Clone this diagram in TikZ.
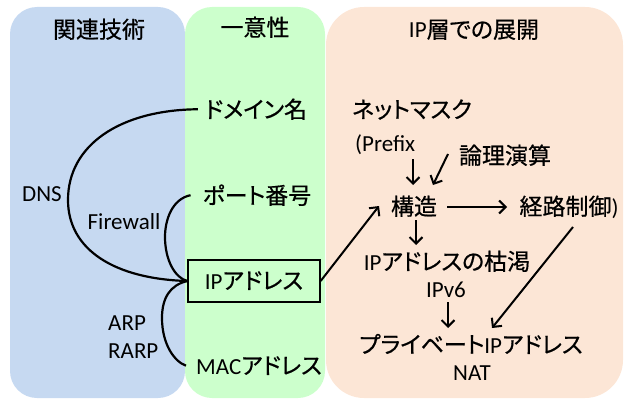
\documentclass[tikz,border=0pt]{standalone}
\usepackage{fontspec}
\setmainfont{Carlito}
\newfontfamily\jp[RawFeature=+palt, FakeBold=0.6]{Noto Sans CJK JP}
\newcommand\jt[1]{{\jp#1}}
\usetikzlibrary{arrows.meta}
\definecolor{panelblue}{RGB}{198,217,241}
\definecolor{panelgreen}{RGB}{204,255,204}
\definecolor{panelpeach}{RGB}{252,230,214}
\tikzset{
  panel/.style={draw=none, rounded corners=27pt},
  lbl/.style={anchor=base, inner sep=0pt, font=\fontsize{23}{28}\selectfont},
  link/.style={line width=2.2pt, black},
  arr/.style={line width=2pt, black, -{Straight Barb[length=6.5pt,width=13pt]}},
}
\begin{document}
\begin{tikzpicture}[x=1pt,y=-1pt]
\useasboundingbox (0,0) rectangle (629,401);
% column backgrounds
\fill[panelblue, panel] (10,7) rectangle (185,398);
\fill[panelgreen, panel] (185,7) rectangle (325,398);
\fill[panelpeach, panel, rounded corners=38pt] (326,7) rectangle (623,398);
% headings
\node[lbl] (h1) at (99,38) {\jt{関連技術}};
\node[lbl] (h2) at (255,36) {\jt{一意性}};
\node[lbl] (h3) at (474,38) {IP\jt{層での展開}};
% identifiers
\node[lbl] (dom) at (256,118) {\jt{ドメイン名}};
\node[lbl] (port) at (257,204) {\jt{ポート番号}};
\node[draw, line width=1.3pt, minimum width=132pt, minimum height=42pt, inner sep=0pt] (ipbox) at (254,281) {};
\node[lbl] (ip) at (254,289) {IP\jt{アドレス}};
\node[lbl] (mac) at (259,374) {MAC\jt{アドレス}};
% related technologies
\node[lbl] (dns) at (42,201) {DNS};
\node[lbl] (fw) at (124,229) {Firewall};
\node[lbl, anchor=base west] (arp) at (108,330) {ARP};
\node[lbl, anchor=base west] (rarp) at (108,358) {RARP};
% IP layer
\node[lbl] (mask) at (412,118) {\jt{ネットマスク}};
\node[lbl, anchor=base west] (prefix) at (355,151) {(Prefix};
\node[lbl] (ronri) at (505,164) {\jt{論理演算}};
\node[lbl] (kozo) at (414,215) {\jt{構造}};
\node[lbl] (keiro) at (569,215) {\jt{経路制御})};
\node[lbl] (kokatsu) at (447,270) {IP\jt{アドレスの枯渇}};
\node[lbl] (v6) at (446,297) {IPv6};
\node[lbl] (priv) at (471,353) {\jt{プライベート}IP\jt{アドレス}};
\node[lbl] (nat) at (472,380) {NAT};
% relations between identifiers
\draw[link] ([xshift=-7pt]dom.west) .. controls (120,110) and (68,145) .. (68,200)
  .. controls (68,250) and (115,279) .. (ipbox.west);
\draw[link] ([xshift=-12pt]port.west) .. controls (172,199) and (165,220) .. (165,237)
  .. controls (165,260) and (175,278) .. (ipbox.west);
\draw[link] (ipbox.west) .. controls (170,285) and (162,298) .. (162,318)
  .. controls (162,345) and (175,362) .. ([xshift=-10pt]mac.west);
% arrows
\coordinate (p1) at (413,159);
\coordinate (p2) at (413,185);
\coordinate (r1) at (448,154);
\coordinate (r2) at (433,185);
\coordinate (k1) at (447,207);
\coordinate (k2) at (507,207);
\coordinate (k3) at (416,220);
\coordinate (k4) at (416,245);
\coordinate (v1) at (448,302);
\coordinate (v2) at (448,328);
\coordinate (c1) at (573,227);
\coordinate (c2) at (492,328);
\coordinate (s2) at (379,206);
\draw[arr] (p1) -- (p2);
\draw[arr] (r1) -- (r2);
\draw[arr] (k1) -- (k2);
\draw[arr] (k3) -- (k4);
\draw[arr] (v1) -- (v2);
\draw[arr] (c1) -- (c2);
\draw[arr] (ipbox.east) -- (s2);
\end{tikzpicture}
\end{document}
